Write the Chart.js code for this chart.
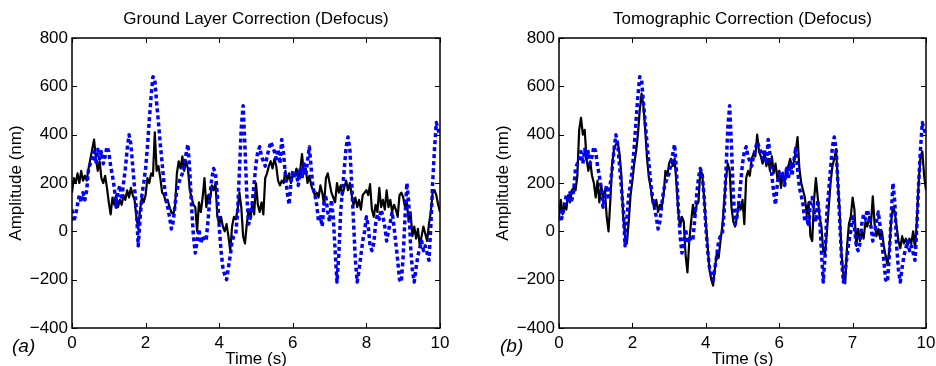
<!DOCTYPE html>
<html>
<head>
<meta charset="utf-8">
<script src="https://cdn.jsdelivr.net/npm/chart.js@4"></script>
<style>
  html, body { margin: 0; padding: 0; background: #fff; }
  #wrap { position: relative; width: 936px; height: 366px; }
  canvas { position: absolute; top: 0; }
</style>
</head>
<body>
<div id="wrap">
  <canvas id="chartA" width="468" height="366" style="left:0"></canvas>
  <canvas id="chartB" width="468" height="366" style="left:468px"></canvas>
</div>
<script>
// sampling grid, 0 .. 10 s every 0.05 s
const times = Array.from({ length: 201 }, (_, i) => Math.round(i * 5) / 100);

// uncorrected defocus (blue dotted, same in both panels)
const openLoop = [
  90, 40, 70, 110, 150, 120, 160, 130, 170, 260, 280, 300, 330, 280, 340, 300, 330, 280, 310, 350,
  330, 270, 230, 180, 100, 160, 190, 130, 200, 260, 340, 400, 360, 270, 180, 90, -60, 50, 150, 200,
  260, 350, 460, 560, 640, 630, 530, 450, 360, 280, 200, 140, 100, 60, 10, 40, 110, 170, 200, 220,
  240, 280, 320, 360, 250, 100, -20, -90, -40, 10, -50, -20, -40, -30, 50, 150, 220, 260, 240, 150,
  20, -80, -150, -180, -200, -150, -100, -40, -20, -10, 80, 250, 430, 520, 350, 150, 30, 60, 120, 200,
  280, 330, 350, 310, 290, 270, 310, 340, 370, 350, 330, 300, 340, 280, 380, 320, 230, 160, 110, 200,
  250, 220, 240, 190, 260, 220, 280, 230, 290, 350, 260, 180, 150, 110, 40, 60, 20, 120, 140, 80,
  40, 130, 60, -80, -210, -100, 80, 170, 260, 350, 390, 340, 200, 40, -120, -210, -160, -100, -40, 0,
  60, 20, -60, -80, -50, 30, 70, 50, 90, 60, 20, -40, 0, 40, 80, 20, -50, -120, -200, -210,
  -100, 60, 200, 120, -60, -160, -210, -150, -100, -70, -40, -80, -60, -90, -120, 20, 200, 340, 450, 420,
  400
];

// ground layer estimate (black, panel a)
const groundLayer = [
  160, 220, 200, 240, 200, 250, 210, 230, 210, 260, 300, 340, 380, 300, 250, 290, 220, 200, 230, 180,
  120, 70, 140, 110, 150, 100, 130, 110, 150, 130, 170, 140, 180, 150, 130, 60, 10, 90, 140, 120,
  150, 220, 200, 240, 230, 410, 250, 270, 220, 160, 150, 120, 130, 100, 80, 70, 100, 240, 290, 260,
  310, 250, 290, 260, 170, 140, 110, 100, 0, 120, 80, 140, 220, 100, 150, 130, 190, 170, 200, 60,
  30, 60, 20, 0, 30, -20, -80, 20, 60, 50, 90, 160, 100, -20, -50, 30, 90, 50, 120, 70,
  200, 110, 80, 120, 70, 220, 240, 270, 290, 260, 300, 270, 210, 190, 210, 200, 250, 210, 240, 200,
  240, 230, 260, 220, 250, 320, 240, 260, 200, 230, 190, 170, 150, 160, 140, 190, 160, 110, 220, 240,
  200, 160, 140, 120, 200, 160, 190, 150, 180, 210, 170, 200, 150, 110, 140, 100, 130, 90, 150, 160,
  170, 150, 195, 90, 60, 110, 80, 180, 100, 130, 90, 170, 100, 130, 80, 110, 90, 60, 150, 160,
  140, 100, 120, 40, 80, -20, 20, -30, 10, -60, -20, 20, -10, -40, 30, 80, 160, 170, 150, 110,
  80
];

// tomographic estimate (black, panel b)
const tomographic = [
  60, 130, 70, 110, 90, 150, 120, 170, 180, 170, 230, 420, 470, 400, 420, 300, 250, 290, 230, 200,
  140, 210, 120, 190, 140, 170, 60, 0, 130, 280, 340, 360, 370, 320, 230, 60, -20, -50, 40, 150,
  210, 280, 330, 400, 500, 570, 520, 420, 300, 220, 180, 120, 100, 130, 80, 110, 100, 150, 250, 230,
  280, 300, 270, 300, 200, 80, 20, 60, 40, -100, -170, -40, 40, 110, 60, 110, 120, 250, 240, 150,
  40, -60, -160, -200, -225, -150, -90, -110, -40, 20, 120, 220, 280, 250, 100, 40, 20, 60, 120, 90,
  130, 30, 220, 250, 230, 300, 320, 310, 400, 330, 310, 280, 330, 270, 300, 250, 310, 240, 280, 220,
  250, 180, 240, 200, 260, 270, 300, 260, 290, 330, 390, 260, 200, 170, 140, 70, 120, -20, -40, 130,
  220, 140, 60, 20, -80, -90, 0, 100, 200, 270, 300, 340, 200, 80, -100, -180, -215, -60, 30, 60,
  140, 90, -60, 10, -40, 0, -30, 40, 20, 60, 30, 145, 30, -20, 10, -30, 0, -60, -100, -140,
  -80, 40, 100, 80, 20, -40, -70, -20, -50, -30, -60, -30, -50, 0, -70, 40, 200, 310, 330, 230,
  170
];

// x tick labels as printed in each panel
const xTicksA = ['0', '2', '4', '6', '8', '10'];
const xTicksB = ['0', '2', '4', '6', '7', '10'];

const FONT = '"Liberation Sans", Arial, Helvetica, sans-serif';

// box, inward ticks and the text around each panel
const framePlugin = {
  id: 'frame',
  afterDraw(chart, args, opts) {
    const { ctx, chartArea: a, scales } = chart;
    ctx.save();
    ctx.strokeStyle = '#000';
    ctx.lineWidth = 1;
    const tl = 5;
    ctx.beginPath();
    scales.x.ticks.forEach(t => {
      const px = Math.round(scales.x.getPixelForValue(t.value)) + 0.5;
      ctx.moveTo(px, a.bottom); ctx.lineTo(px, a.bottom - tl);
      ctx.moveTo(px, a.top); ctx.lineTo(px, a.top + tl);
    });
    scales.y.ticks.forEach(t => {
      const py = Math.round(scales.y.getPixelForValue(t.value)) + 0.5;
      ctx.moveTo(a.left, py); ctx.lineTo(a.left + tl, py);
      ctx.moveTo(a.right, py); ctx.lineTo(a.right - tl, py);
    });
    ctx.stroke();
    ctx.lineWidth = 1.5;
    ctx.strokeRect(a.left, a.top, a.right - a.left, a.bottom - a.top);

    ctx.fillStyle = '#000';
    const cx = (a.left + a.right) / 2;
    ctx.textAlign = 'center';
    ctx.textBaseline = 'middle';
    ctx.font = '17px ' + FONT;
    ctx.fillText(opts.title, cx, 19);
    ctx.fillText('Time (s)', cx, 359);
    ctx.font = 'italic 19px ' + FONT;
    ctx.textAlign = 'left';
    ctx.fillText(opts.letter, opts.letterX, 347);
    ctx.translate(opts.yTitleX, (a.top + a.bottom) / 2);
    ctx.rotate(-Math.PI / 2);
    ctx.textAlign = 'center';
    ctx.font = '17px ' + FONT;
    ctx.fillText('Amplitude (nm)', 0, 0);
    ctx.restore();
  }
};

function makeChart(id, blackSeries, xTicks, yWidth, rightPad, frame) {
  return new Chart(document.getElementById(id), {
    type: 'line',
    data: {
      labels: times,
      datasets: [
        {
          data: openLoop,
          borderColor: '#0000ff',
          borderWidth: 3.5,
          borderDash: [4, 3],
          borderCapStyle: 'butt',
          borderJoinStyle: 'round',
          pointRadius: 0,
          tension: 0
        },
        {
          data: blackSeries,
          borderColor: '#000000',
          borderWidth: 2.2,
          borderJoinStyle: 'round',
          pointRadius: 0,
          tension: 0
        }
      ]
    },
    options: {
      responsive: false,
      animation: false,
      devicePixelRatio: 1,
      layout: { padding: { left: 0, right: rightPad, top: 38, bottom: 0 } },
      plugins: {
        legend: { display: false },
        tooltip: { enabled: false },
        frame: frame
      },
      scales: {
        x: {
          type: 'linear',
          min: 0,
          max: 10,
          grid: { display: false, drawTicks: false },
          border: { display: false },
          ticks: {
            stepSize: 2,
            padding: 5,
            color: '#000',
            font: { family: FONT, size: 17 },
            maxRotation: 0,
            callback: v => xTicks[Math.round(v / 2)]
          },
          afterFit: s => { s.height = 38; s.paddingLeft = 0; s.paddingRight = 0; }
        },
        y: {
          min: -400,
          max: 800,
          grid: { display: false, drawTicks: false },
          border: { display: false },
          ticks: {
            stepSize: 200,
            padding: 4,
            color: '#000',
            font: { family: FONT, size: 17 },
            callback: v => String(v).replace('-', '\u2212')
          },
          afterFit: s => { s.width = yWidth; s.paddingTop = 0; s.paddingBottom = 0; }
        }
      }
    },
    plugins: [framePlugin]
  });
}

makeChart('chartA', groundLayer, xTicksA, 72, 28,
  { title: 'Ground Layer Correction (Defocus)', letter: '(a)', letterX: 12, yTitleX: 16 });
makeChart('chartB', tomographic, xTicksB, 91, 10,
  { title: 'Tomographic Correction (Defocus)', letter: '(b)', letterX: 32, yTitleX: 35 });
</script>
</body>
</html>
